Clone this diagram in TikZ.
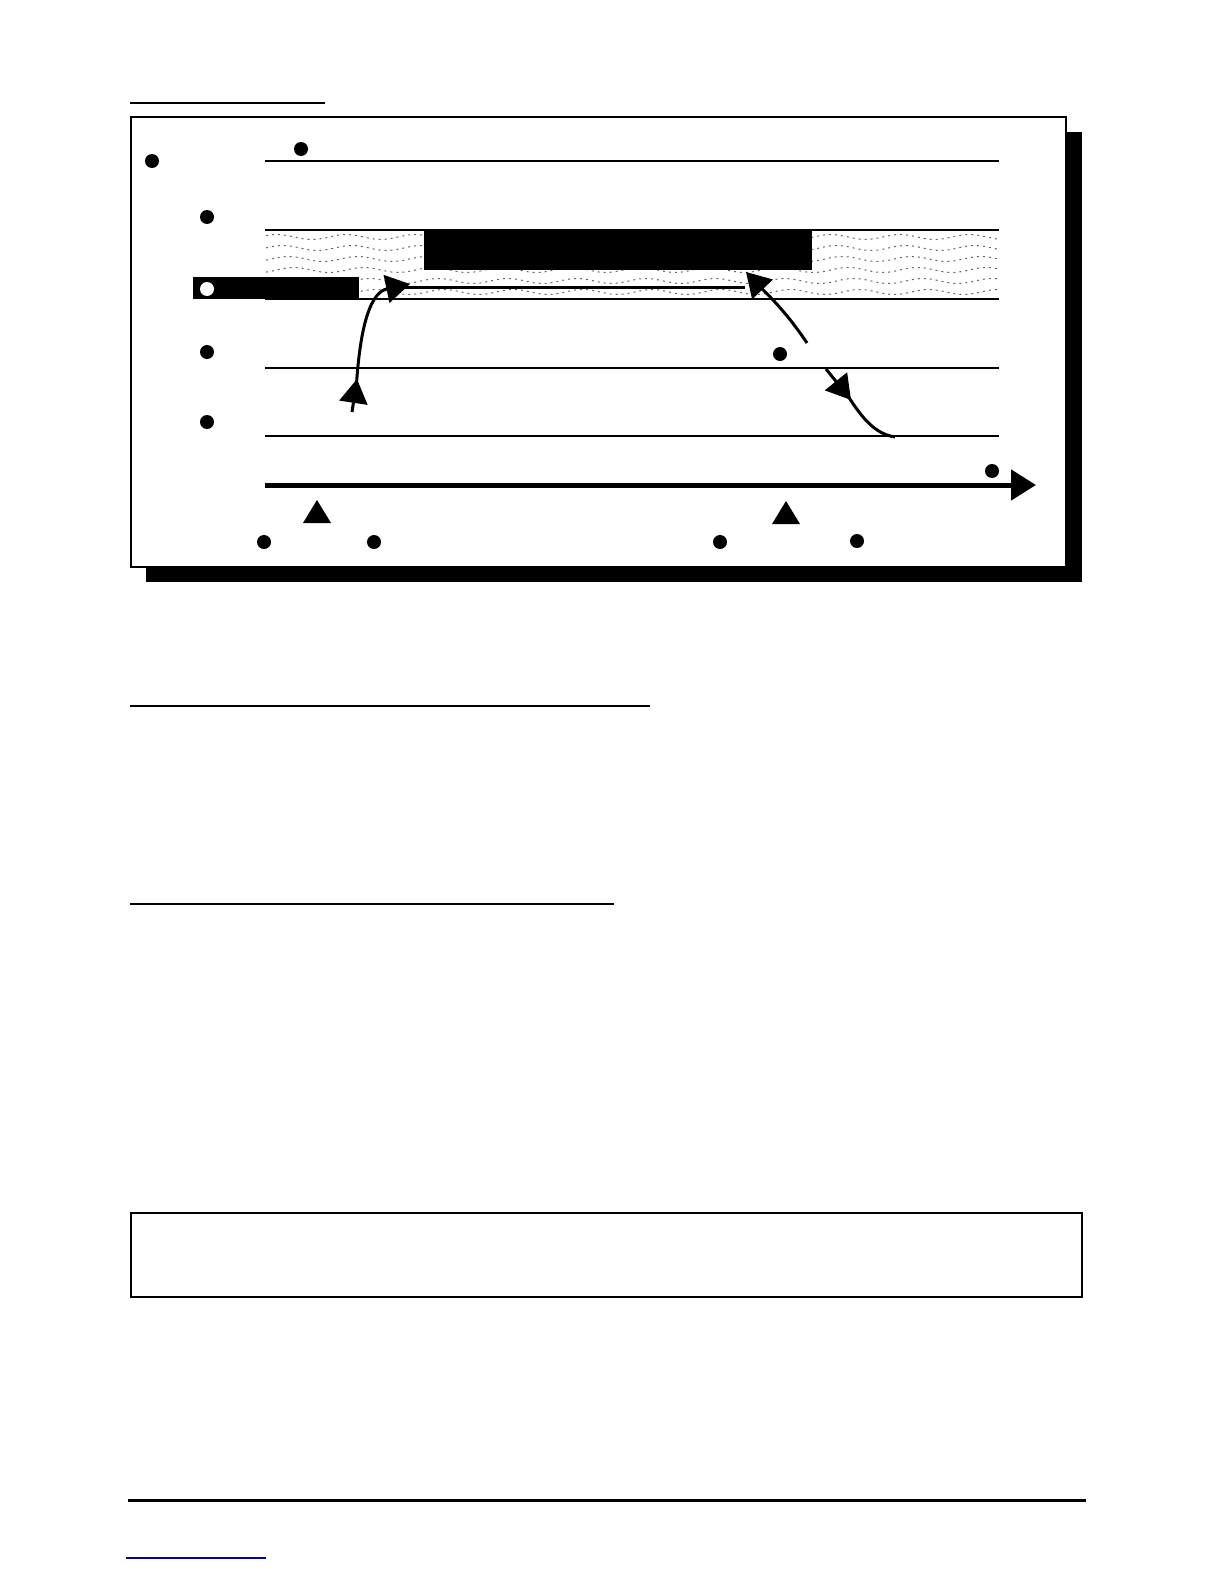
\documentclass[tikz,border=0pt]{standalone}
\usetikzlibrary{arrows.meta}
\tikzset{
  dot/.style={circle, fill=black, inner sep=0pt, minimum size=7pt},
  hole/.style={circle, fill=white, inner sep=0pt, minimum size=7pt},
  rule/.style={line width=1pt},
  flow/.style={line width=1.5pt},
  bigtip/.style={-{Triangle[length=12pt,width=14pt]}},
}
\begin{document}
\begin{tikzpicture}[x=0.5pt,y=-0.5pt]
  \useasboundingbox (0,0) rectangle (1224,1584);
  % heading rule
  \draw[rule] (130,103) -- (325,103);
  % frame and its shadow
  \fill (146,132) rectangle (1082,582);
  \draw[rule, fill=white] (131,117) rectangle (1066,567);
  % hatched layer
  \foreach \row in {237,248,259,270,281,292}
    \draw[gray!80!black, line width=0.5pt, dash pattern=on 1pt off 2pt]
      plot[domain=266:998, samples=150] (\x, {\row+2.5*sin(5.2*\x+30*\row)});
  \fill (424,230) rectangle (812,270);
  \fill (193,277) rectangle (359,299);
  % levels
  \foreach \lev in {161,230,299,368,436}
    \draw[rule] (265,\lev) -- (999,\lev);
  % time axis
  \coordinate (t0) at (265,485);
  \coordinate (t1) at (1036,485);
  \draw[line width=2.5pt, -{Triangle[length=12.5pt,width=15pt]}] (t0) -- (t1);
  \fill (303,523) -- (317,500) -- (331,523) -- cycle;
  \fill (772,524) -- (786,501) -- (800,524) -- cycle;
  % dots
  \node[dot] (a) at (152,161) {};
  \node[dot] (b) at (301,149) {};
  \node[dot] (c) at (207,217) {};
  \node[hole] (d) at (207,289) {};
  \node[dot] (e) at (207,352) {};
  \node[dot] (f) at (207,422) {};
  \node[dot] (g) at (780,354) {};
  \node[dot] (h) at (992,471) {};
  \node[dot] (p1) at (264,542) {};
  \node[dot] (p2) at (374,542) {};
  \node[dot] (p3) at (720,542) {};
  \node[dot] (p4) at (857,541) {};
  % rise, stay, fall
  \coordinate (r0) at (352,412);
  \coordinate (r1) at (357,379);
  \coordinate (r2) at (356,392);
  \coordinate (r3) at (410,284);
  \draw[flow, bigtip] (r0) -- (r1);
  \draw[flow, bigtip] (r2) .. controls (360,320) and (372,292) .. (r3);
  \coordinate (s0) at (405,287);
  \coordinate (s1) at (745,287);
  \draw[flow] (s0) -- (s1);
  \coordinate (u0) at (807,343);
  \coordinate (u1) at (746,272);
  \draw[flow, bigtip] (u0) .. controls (785,310) and (765,292) .. (u1);
  \coordinate (v0) at (826,369);
  \coordinate (v1) at (851,400);
  \coordinate (v2) at (895,437);
  \draw[flow, bigtip] (v0) -- (v1);
  \draw[flow] (848,396) .. controls (862,418) and (875,434) .. (v2);
  % page rules
  \draw[rule] (130,706) -- (650,706);
  \draw[rule] (130,904) -- (614,904);
  \draw[rule] (131,1213) rectangle (1082,1297);
  \draw[line width=1.5pt] (128,1500) -- (1086,1500);
  \draw[blue!60!black, line width=0.8pt] (126,1558) -- (266,1558);
\end{tikzpicture}
\end{document}
